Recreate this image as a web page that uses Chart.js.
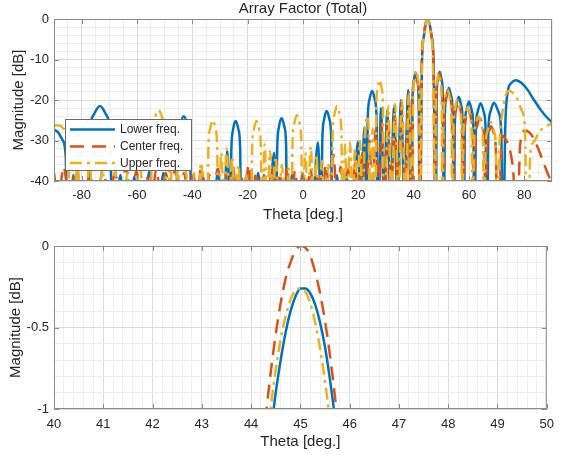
<!DOCTYPE html>
<html>
<head>
<meta charset="utf-8">
<script src="https://cdn.jsdelivr.net/npm/chart.js@4.4.0/dist/chart.umd.min.js"></script>
<style>
  html, body { margin: 0; padding: 0; background: #fff; }
  #wrap { position: relative; width: 562px; height: 459px; }
  canvas { position: absolute; left: 0; }
  #top { top: 0; }
  #bottom { top: 230px; }
</style>
</head>
<body>
<div id="wrap">
  <canvas id="top" width="562" height="230"></canvas>
  <canvas id="bottom" width="562" height="229"></canvas>
</div>
<script>
// ---- data: [theta (deg), magnitude (dB)] ----
const lowerTop = [
  [-90,-27.3],[-88.5,-28],[-87,-29.8],[-85.8,-33.5],[-84.8,-60],
  [-83,-38.5],[-81.3,-60],[-78,-60],
  [-77.1,-28.5],[-75.7,-23.7],[-73.4,-21.5],[-71.1,-23.7],[-69.7,-28.5],[-68.8,-60],
  [-66,-38.5],[-63.5,-60],[-61,-39],[-58.5,-60],[-55.5,-37.5],[-53,-60],[-50.5,-38],[-46,-60],
  [-45.4,-31],[-44.55,-26.2],[-43.1,-24],[-41.65,-26.2],[-40.8,-31],[-40.2,-60],
  [-36,-39.2],[-33.5,-60],[-30.6,-37],[-29.2,-60],[-27.4,-32.5],[-26.3,-48],
  [-25.9,-32.2],[-25.3,-27.4],[-24.3,-25.2],[-23.3,-27.4],[-22.7,-32.2],[-22.3,-60],
  [-20.5,-38.5],[-18.6,-60],[-16.2,-38],[-13.5,-60],[-10.4,-33],[-9.7,-48],
  [-9.3,-31.5],[-8.7,-26.7],[-7.7,-24.5],[-6.7,-26.7],[-6.1,-31.5],[-5.7,-60],
  [-4,-38.5],[-2.2,-60],[-0.2,-38],[2.4,-60],[5.4,-30.5],[6.6,-48],
  [7,-29.7],[7.6,-24.9],[8.6,-22.7],[9.6,-24.9],[10.2,-29.7],[10.6,-60],
  [12.3,-38.5],[14,-60],[15.7,-38.2],[17.6,-60],[19.8,-30.3],[21,-48],[22.2,-26.7],[23,-48],
  [23.4,-24.8],[24,-20],[25,-17.8],[26,-20],[26.6,-24.8],[27,-60],
  [28.2,-22],[29.3,-45],[30.45,-22.5],[31.67,-45],[32.9,-21.5],[34.15,-45],[35.4,-20],[36.71,-45],[38,-17.5],[39.3,-60],
  [39.58,-20.2],[40,-15.4],[40.7,-13.2],[41.4,-15.4],[41.82,-20.2],[42.2,-60],
  [43,-10.8],[43.7,-4.2],[44.4,-1.15],[45.05,-0.25],[45.7,-1.05],[46.45,-4.2],[47.2,-10.8],[48,-60],
  [48.28,-20],[48.7,-15.2],[49.4,-13],[50.15,-15.2],[50.6,-20],[50.9,-60],
  [51.26,-24],[51.8,-19.2],[52.7,-17],[53.6,-19.2],[54.14,-24],[54.5,-60],
  [54.86,-26.2],[55.4,-21.4],[56.3,-19.2],[57.2,-21.4],[57.74,-26.2],[58.1,-60],
  [58.48,-27.4],[59.05,-22.6],[60,-20.4],[61,-22.6],[61.6,-27.4],[62,-60],
  [62.44,-27.8],[63.1,-23],[64.2,-20.8],[65.35,-23],[66.04,-27.8],[66.5,-60],
  [67,-27.7],[67.75,-22.9],[69,-20.7],[70.65,-22.9],[71.64,-27.7],[72.3,-60],
  [73.1,-27],[74,-18],[75.3,-15.8],[77,-15.1],[79,-15.8],[81.2,-17.5],[83.5,-20],[86,-22.5],[88,-24.2],[90,-25.5]
];

const centerTop = [
  [-90,-38],[-88.5,-45],[-86.5,-36.5],[-84.5,-45],[-82,-37],[-79.5,-45],[-77,-38.5],[-74.5,-45],
  [-72.3,-37],[-70,-45],[-68,-38],[-66,-45],[-64,-36.5],[-62,-45],[-60.2,-37.5],[-58.4,-45],
  [-56.6,-38.5],[-54.8,-45],[-53,-37],[-51.3,-45],[-49.6,-38],[-47.9,-45],[-46.2,-36.8],[-44.6,-45],
  [-43,-38],[-41.4,-45],[-39.8,-37.5],[-38.3,-45],[-36.8,-36.5],[-35.3,-45],[-33.8,-38.5],[-32.3,-45],
  [-30.9,-37],[-29.5,-45],[-28.1,-38],[-26.7,-45],[-25.3,-36.5],[-23.9,-45],[-22.5,-38.2],[-21.1,-45],
  [-19.7,-36],[-18.3,-45],[-16.9,-37.8],[-15.5,-45],[-14.1,-38.5],[-12.7,-45],[-11.3,-37],[-9.9,-45],
  [-8.5,-38],[-7.1,-45],[-5.7,-36.5],[-4.3,-45],[-2.9,-37.5],[-1.5,-45],[-0.1,-38.5],[1.3,-45],
  [2.7,-37],[4.1,-45],[5.5,-38],[6.9,-45],[8.3,-36],[9.7,-45],[11,-33.5],[12.3,-45],
  [13.6,-36.5],[14.9,-45],[16.2,-37],[17.5,-45],[18.8,-35.5],[20.1,-45],[21.4,-33],[22.7,-45],
  [24,-30],[25.1,-45],[26.3,-27],[27.4,-45],[28.5,-25.5],[29.6,-45],[30.8,-24.5],[31.9,-45],
  [33.1,-23],[34.3,-45],[35.6,-21],[36.9,-45],[38.2,-18],[39.4,-60],
  [39.68,-20.5],[40.1,-15.7],[40.8,-13.5],[41.5,-15.7],[41.92,-20.5],[42.2,-60],
  [42.9,-11],[43.6,-4.3],[44.3,-1.04],[45.02,0],[45.75,-1.05],[46.45,-4.3],[47.15,-11],[47.9,-60],
  [48.16,-20.3],[48.55,-15.5],[49.2,-13.3],[49.95,-15.5],[50.4,-20.3],[50.7,-60],
  [51.06,-24.8],[51.6,-20],[52.5,-17.8],[53.4,-20],[53.94,-24.8],[54.3,-60],
  [54.66,-27.5],[55.2,-22.7],[56.1,-20.5],[57,-22.7],[57.54,-27.5],[57.9,-60],
  [58.28,-29.5],[58.85,-24.7],[59.8,-22.5],[60.8,-24.7],[61.4,-29.5],[61.8,-60],
  [62.22,-31.5],[62.85,-26.7],[63.9,-24.5],[64.95,-26.7],[65.58,-31.5],[66,-60],
  [66.4,-33.5],[67,-28.7],[68,-26.5],[69.1,-28.7],[69.76,-33.5],[70.2,-60],
  [72,-28.8],[73.5,-30],[75,-33],[76.2,-40],[77.2,-60],
  [78.5,-31],[80.3,-27.5],[82.5,-28.5],[85,-32],[87.5,-36.5],[89,-39],[90,-40]
];

const upperTop = [
  [-90,-26.2],[-88,-26.3],[-86.3,-27.2],[-85,-29.5],[-83.8,-60],
  [-81.5,-36],[-79.5,-60],[-77.2,-35],[-75,-60],[-72.5,-37],[-70.3,-60],[-68,-36.5],[-65.8,-60],
  [-63.5,-38],[-61.4,-60],[-59.3,-36],[-55.2,-60],
  [-54.6,-29.5],[-53.7,-24.7],[-52.2,-22.5],[-50.7,-24.7],[-49.8,-29.5],[-49.2,-60],
  [-48,-33.5],[-46.8,-60],[-45.3,-36],[-43.8,-60],[-42.3,-37.5],[-40.8,-60],[-39.4,-38],[-38.1,-60],[-36.9,-35.5],
  [-34.6,-60],[-34.2,-32],[-33.6,-27.2],[-32.6,-25],[-31.6,-27.2],[-31,-32],[-30.6,-60],
  [-29.6,-33],[-28.6,-45],[-27.6,-32],[-26.6,-45],[-25.6,-34],[-24.6,-45],[-23.3,-36],[-22,-60],[-20.5,-38.5],
  [-18.8,-60],[-18.4,-32.2],[-17.8,-27.4],[-16.8,-25.2],[-15.8,-27.4],[-15.2,-32.2],[-14.8,-60],
  [-13.9,-31],[-12.9,-45],[-11.9,-32.5],[-10.9,-45],[-9.9,-34],[-8.8,-45],[-7.6,-36],[-6.4,-60],[-5.2,-37],
  [-4.2,-60],[-3.8,-30.7],[-3.2,-25.9],[-2.2,-23.7],[-1.2,-25.9],[-0.6,-30.7],[-0.2,-60],
  [0.8,-33],[1.8,-45],[2.8,-31.5],[3.8,-45],[4.8,-33.5],[5.8,-45],[6.9,-35],[8,-60],[9.2,-36],
  [10.3,-60],[10.7,-28.5],[11.3,-23.7],[12.3,-21.5],[13.3,-23.7],[13.9,-28.5],[14.3,-60],
  [15.2,-31],[16.1,-45],[17,-30.5],[17.9,-45],[18.8,-32],[19.7,-45],[20.6,-30],[21.5,-45],
  [22.5,-27],[23.5,-24],[24.4,-45],[25.2,-27],
  [26.2,-60],[26.5,-22],[26.95,-17.2],[27.7,-15],[28.45,-17.2],[28.9,-22],[29.2,-60],
  [30.8,-21.5],[32,-45],[33.3,-21],[34.5,-45],[35.8,-20],[37,-45],[38.3,-18.5],[39.55,-60],
  [39.82,-19.7],[40.23,-14.9],[40.9,-12.7],[41.6,-14.9],[42.02,-19.7],[42.3,-60],
  [43,-11],[43.7,-4.3],[44.4,-1],[44.98,-0.25],[45.6,-1.07],[46.3,-4.3],[47,-11],[47.75,-60],
  [48,-20.4],[48.4,-15.6],[49,-13.4],[49.7,-15.6],[50.12,-20.4],[50.4,-60],
  [50.76,-24.3],[51.3,-19.5],[52.2,-17.3],[53.1,-19.5],[53.64,-24.3],[54,-60],
  [54.36,-27],[54.9,-22.2],[55.8,-20],[56.7,-22.2],[57.24,-27],[57.6,-60],
  [57.96,-28.8],[58.5,-24],[59.4,-21.8],[60.4,-24],[61,-28.8],[61.4,-60],
  [61.8,-31],[62.4,-26.2],[63.4,-24],[64.45,-26.2],[65.08,-31],[65.5,-60],
  [65.96,-32.5],[66.65,-27.7],[67.8,-25.5],[69,-27.7],[69.72,-32.5],[70.2,-60],
  [71,-32],[72,-23.5],[73.2,-19],[74.5,-17.8],[76,-18.3],[77.5,-19.8],[79,-22.5],[80.2,-27],[81.1,-60],
  [82.2,-33],[83.6,-30.2],[85,-28.3],[86.6,-27],[88.3,-26.3],[90,-25.8]
];

// zoom on the main beam
const lowerZoom = [
  [44.3,-1.44],[44.4,-1.15],[44.5,-0.9],[44.6,-0.7],[44.7,-0.53],[44.8,-0.4],[44.9,-0.31],[45,-0.26],
  [45.1,-0.26],[45.2,-0.29],[45.3,-0.36],[45.4,-0.47],[45.5,-0.62],[45.6,-0.82],[45.7,-1.05],[45.8,-1.32]
];
const centerZoom = [
  [44.2,-1.34],[44.3,-1.04],[44.4,-0.77],[44.5,-0.54],[44.6,-0.35],[44.7,-0.2],[44.8,-0.1],[44.9,-0.03],[45,0],
  [45.1,-0.01],[45.2,-0.06],[45.3,-0.16],[45.4,-0.29],[45.5,-0.46],[45.6,-0.67],[45.7,-0.92],[45.8,-1.22]
];
const upperZoom = [
  [44.3,-1.26],[44.4,-0.99],[44.5,-0.76],[44.6,-0.57],[44.7,-0.43],[44.8,-0.33],[44.9,-0.27],[45,-0.26],
  [45.1,-0.28],[45.2,-0.35],[45.3,-0.47],[45.4,-0.63],[45.5,-0.83],[45.6,-1.07],[45.7,-1.35]
];

const seriesNames = ['Lower freq.', 'Center freq.', 'Upper freq.'];

// tick labels
const topXTicks = [-80, -60, -40, -20, 0, 20, 40, 60, 80];
const topYTicks = [-40, -30, -20, -10, 0];
const zoomXTicks = [40, 41, 42, 43, 44, 45, 46, 47, 48, 49, 50];
const zoomYTicks = [-1, -0.5, 0];

// ---- styling ----
const FONT = "'Liberation Sans', Arial, Helvetica, sans-serif";
const TEXT = '#262626';
const GRID_MAJOR = '#dcdcdc';
const GRID_MINOR = '#eeeeee';
const BOX = '#8a8a8a';
Chart.defaults.font.family = FONT;
Chart.defaults.color = TEXT;

const styles = [
  { color: '#0072BD', dash: [], order: 3 },
  { color: '#D95319', dash: [14, 8], order: 2 },
  { color: '#EDB120', dash: [12, 5, 3, 5], order: 1 }
];

const isMajor = (v, list) => list.some(t => Math.abs(t - v) < 1e-6);
const tickLabel = (v, list) => {
  const m = list.find(t => Math.abs(t - v) < 1e-6);
  return m === undefined ? '' : String(m);
};

// box round the axes plus inward major ticks (MATLAB look)
const axesBox = {
  id: 'axesBox',
  afterDatasetsDraw(chart, args, o) {
    const { ctx, chartArea: a, scales } = chart;
    ctx.save();
    ctx.strokeStyle = BOX;
    ctx.lineWidth = 1;
    ctx.beginPath();
    o.xMajor.forEach(v => {
      const x = Math.round(scales.x.getPixelForValue(v)) + 0.5;
      ctx.moveTo(x, a.bottom); ctx.lineTo(x, a.bottom - 5);
      ctx.moveTo(x, a.top); ctx.lineTo(x, a.top + 5);
    });
    o.yMajor.forEach(v => {
      const y = Math.round(scales.y.getPixelForValue(v)) + 0.5;
      ctx.moveTo(a.left, y); ctx.lineTo(a.left + 5, y);
      ctx.moveTo(a.right, y); ctx.lineTo(a.right - 5, y);
    });
    ctx.stroke();
    ctx.strokeRect(a.left + 0.5, a.top + 0.5, a.right - a.left - 1, a.bottom - a.top - 1);
    ctx.restore();
  }
};

// legend box inside the top axes
const freqLegend = {
  id: 'freqLegend',
  afterDraw(chart, args, o) {
    const ctx = chart.ctx;
    ctx.save();
    ctx.fillStyle = '#fff';
    ctx.fillRect(o.x, o.y, o.w, o.h);
    ctx.strokeStyle = '#6a6a6a';
    ctx.lineWidth = 1;
    ctx.strokeRect(o.x + 0.5, o.y + 0.5, o.w - 1, o.h - 1);
    chart.data.datasets.forEach((ds, i) => {
      const y = o.rows[i];
      ctx.strokeStyle = ds.borderColor;
      ctx.lineWidth = ds.borderWidth;
      ctx.setLineDash(ds.borderDash);
      ctx.beginPath();
      ctx.moveTo(o.x1, y); ctx.lineTo(o.x2, y);
      ctx.stroke();
      ctx.setLineDash([]);
      ctx.fillStyle = TEXT;
      ctx.font = '12px ' + FONT;
      ctx.textBaseline = 'middle';
      ctx.textAlign = 'left';
      ctx.fillText(ds.label, o.tx, y + 0.5);
    });
    ctx.restore();
  }
};

function buildChart(id, cfg) {
  const plugins = [axesBox];
  if (cfg.legend) plugins.push(freqLegend);
  return new Chart(document.getElementById(id), {
    type: 'line',
    data: {
      datasets: cfg.data.map((d, i) => ({
        label: seriesNames[i],
        data: d.map(([x, y]) => ({ x, y })),
        borderColor: styles[i].color,
        borderDash: styles[i].dash,
        borderWidth: 2.5,
        pointRadius: 0,
        fill: false,
        cubicInterpolationMode: 'monotone',
        capBezierPoints: false,
        order: styles[i].order
      }))
    },
    options: {
      responsive: false,
      animation: false,
      devicePixelRatio: 1,
      events: [],
      layout: { padding: { top: cfg.padTop, right: 10, left: 0, bottom: 0 } },
      plugins: {
        legend: { display: false },
        tooltip: { enabled: false },
        title: cfg.title
          ? { display: true, text: cfg.title, fullSize: false, color: TEXT,
              font: { size: 15, weight: 'normal' }, padding: { top: 0, bottom: 1 } }
          : { display: false },
        axesBox: { xMajor: cfg.xMajor, yMajor: cfg.yMajor },
        freqLegend: cfg.legend || {}
      },
      scales: {
        x: {
          type: 'linear', min: cfg.xMin, max: cfg.xMax,
          afterFit: s => { s.height = cfg.xHeight; },
          border: { display: false },
          grid: { drawTicks: false, color: c => isMajor(c.tick.value, cfg.xMajor) ? GRID_MAJOR : GRID_MINOR },
          ticks: {
            stepSize: cfg.xStep, maxTicksLimit: 1000, autoSkip: false, maxRotation: 0,
            padding: cfg.xTickPad, font: { size: 13 }, color: TEXT,
            callback: v => tickLabel(v, cfg.xMajor)
          },
          title: { display: true, text: 'Theta [deg.]', color: TEXT, font: { size: 15 },
                   padding: { top: 0, bottom: cfg.xTitlePad } }
        },
        y: {
          type: 'linear', min: cfg.yMin, max: cfg.yMax,
          afterFit: s => { s.width = 54; },
          border: { display: false },
          grid: { drawTicks: false, color: c => isMajor(c.tick.value, cfg.yMajor) ? GRID_MAJOR : GRID_MINOR },
          ticks: {
            stepSize: cfg.yStep, maxTicksLimit: 1000, autoSkip: false,
            padding: 5, font: { size: 13 }, color: TEXT,
            callback: v => tickLabel(v, cfg.yMajor)
          },
          title: { display: true, text: 'Magnitude [dB]', color: TEXT, font: { size: 15 },
                   padding: { top: cfg.yTitlePad, bottom: 0 } }
        }
      }
    },
    plugins
  });
}

buildChart('top', {
  data: [lowerTop, centerTop, upperTop],
  title: 'Array Factor (Total)',
  padTop: 0,
  xMin: -90, xMax: 90, xStep: 5, xMajor: topXTicks,
  yMin: -40, yMax: 0, yStep: 2, yMajor: topYTicks,
  xHeight: 49, xTickPad: 7, xTitlePad: 6, yTitlePad: 10,
  legend: { x: 65, y: 119, w: 127, h: 52, rows: [129.5, 146.5, 163], x1: 70, x2: 115, tx: 120 }
});

buildChart('bottom', {
  data: [lowerZoom, centerZoom, upperZoom],
  title: null,
  padTop: 16,
  xMin: 40, xMax: 50, xStep: 0.2, xMajor: zoomXTicks,
  yMin: -1, yMax: 0, yStep: 0.1, yMajor: zoomYTicks,
  xHeight: 50, xTickPad: 8, xTitlePad: 8, yTitlePad: 6.5,
  legend: null
});
</script>
</body>
</html>
